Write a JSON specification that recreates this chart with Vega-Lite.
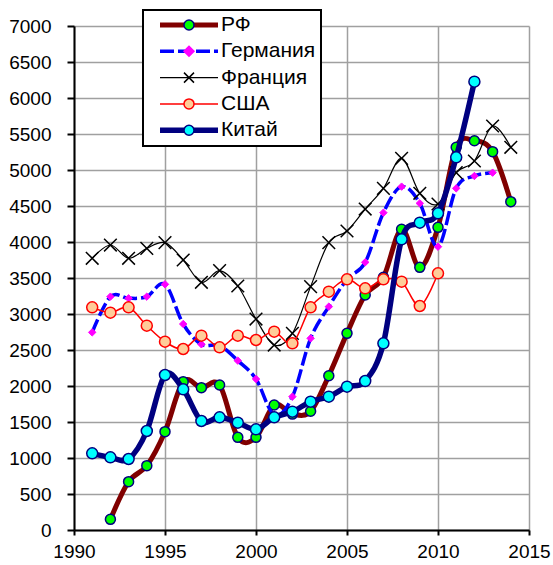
{
  "$schema": "https://vega.github.io/schema/vega-lite/v6.json",
  "width": 455,
  "height": 504,
  "autosize": {"type": "none"},
  "padding": {"left": 74, "top": 26, "right": 24, "bottom": 35},
  "background": "white",
  "config": {"view": {"stroke": null}},
  "data": {"values": [
    {"s":"РФ","year":1992,"v":148},{"s":"РФ","year":1993,"v":671},{"s":"РФ","year":1994,"v":894},{"s":"РФ","year":1995,"v":1366},{"s":"РФ","year":1996,"v":2060},{"s":"РФ","year":1997,"v":1977},{"s":"РФ","year":1998,"v":2014},{"s":"РФ","year":1999,"v":1287},{"s":"РФ","year":2000,"v":1287},{"s":"РФ","year":2001,"v":1736},{"s":"РФ","year":2002,"v":1610},{"s":"РФ","year":2003,"v":1650},{"s":"РФ","year":2004,"v":2143},{"s":"РФ","year":2005,"v":2731},{"s":"РФ","year":2006,"v":3264},{"s":"РФ","year":2007,"v":3510},{"s":"РФ","year":2008,"v":4176},{"s":"РФ","year":2009,"v":3648},{"s":"РФ","year":2010,"v":4204},{"s":"РФ","year":2011,"v":5315},{"s":"РФ","year":2012,"v":5407},{"s":"РФ","year":2013,"v":5255},{"s":"РФ","year":2014,"v":4560},
    {"s":"Германия","year":1991,"v":2745},{"s":"Германия","year":1992,"v":3241},{"s":"Германия","year":1993,"v":3218},{"s":"Германия","year":1994,"v":3241},{"s":"Германия","year":1995,"v":3412},{"s":"Германия","year":1996,"v":2861},{"s":"Германия","year":1997,"v":2579},{"s":"Германия","year":1998,"v":2560},{"s":"Германия","year":1999,"v":2352},{"s":"Германия","year":2000,"v":2097},{"s":"Германия","year":2001,"v":1600},{"s":"Германия","year":2002,"v":1852},{"s":"Германия","year":2003,"v":2662},{"s":"Германия","year":2004,"v":3102},{"s":"Германия","year":2005,"v":3480},{"s":"Германия","year":2006,"v":3718},{"s":"Германия","year":2007,"v":4407},{"s":"Германия","year":2008,"v":4769},{"s":"Германия","year":2009,"v":4537},{"s":"Германия","year":2010,"v":3935},{"s":"Германия","year":2011,"v":4745},{"s":"Германия","year":2012,"v":4917},{"s":"Германия","year":2013,"v":4963},
    {"s":"Франция","year":1991,"v":3774},{"s":"Франция","year":1992,"v":3958},{"s":"Франция","year":1993,"v":3774},{"s":"Франция","year":1994,"v":3912},{"s":"Франция","year":1995,"v":3991},{"s":"Франция","year":1996,"v":3750},{"s":"Франция","year":1997,"v":3440},{"s":"Франция","year":1998,"v":3602},{"s":"Франция","year":1999,"v":3389},{"s":"Франция","year":2000,"v":2930},{"s":"Франция","year":2001,"v":2569},{"s":"Франция","year":2002,"v":2731},{"s":"Франция","year":2003,"v":3380},{"s":"Франция","year":2004,"v":3991},{"s":"Франция","year":2005,"v":4153},{"s":"Франция","year":2006,"v":4458},{"s":"Франция","year":2007,"v":4745},{"s":"Франция","year":2008,"v":5162},{"s":"Франция","year":2009,"v":4676},{"s":"Франция","year":2010,"v":4528},{"s":"Франция","year":2011,"v":4963},{"s":"Франция","year":2012,"v":5125},{"s":"Франция","year":2013,"v":5611},{"s":"Франция","year":2014,"v":5315},
    {"s":"США","year":1991,"v":3093},{"s":"США","year":1992,"v":3019},{"s":"США","year":1993,"v":3093},{"s":"США","year":1994,"v":2838},{"s":"США","year":1995,"v":2616},{"s":"США","year":1996,"v":2514},{"s":"США","year":1997,"v":2699},{"s":"США","year":1998,"v":2537},{"s":"США","year":1999,"v":2699},{"s":"США","year":2000,"v":2639},{"s":"США","year":2001,"v":2755},{"s":"США","year":2002,"v":2593},{"s":"США","year":2003,"v":3093},{"s":"США","year":2004,"v":3310},{"s":"США","year":2005,"v":3481},{"s":"США","year":2006,"v":3356},{"s":"США","year":2007,"v":3481},{"s":"США","year":2008,"v":3449},{"s":"США","year":2009,"v":3111},{"s":"США","year":2010,"v":3565},
    {"s":"Китай","year":1991,"v":1065},{"s":"Китай","year":1992,"v":1009},{"s":"Китай","year":1993,"v":986},{"s":"Китай","year":1994,"v":1375},{"s":"Китай","year":1995,"v":2153},{"s":"Китай","year":1996,"v":1954},{"s":"Китай","year":1997,"v":1514},{"s":"Китай","year":1998,"v":1565},{"s":"Китай","year":1999,"v":1491},{"s":"Китай","year":2000,"v":1398},{"s":"Китай","year":2001,"v":1565},{"s":"Китай","year":2002,"v":1643},{"s":"Китай","year":2003,"v":1782},{"s":"Китай","year":2004,"v":1852},{"s":"Китай","year":2005,"v":1991},{"s":"Китай","year":2006,"v":2069},{"s":"Китай","year":2007,"v":2593},{"s":"Китай","year":2008,"v":4037},{"s":"Китай","year":2009,"v":4268},{"s":"Китай","year":2010,"v":4398},{"s":"Китай","year":2011,"v":5176},{"s":"Китай","year":2012,"v":6227}
  ]},
  "encoding": {
    "x": {"field": "year", "type": "quantitative",
      "scale": {"domain": [1990, 2015], "nice": false, "zero": false},
      "axis": {"title": null, "values": [1990, 1995, 2000, 2005, 2010, 2015], "format": "d", "grid": true, "gridColor": "#a0a0a0", "gridWidth": 1.5, "domainColor": "#000000", "domainWidth": 2, "tickColor": "#000000", "tickWidth": 2, "tickSize": 5, "labelFont": "Liberation Sans", "labelFontSize": 19, "labelColor": "#000000", "labelPadding": 7, "labelFlush": false, "labelOverlap": false}},
    "y": {"field": "v", "type": "quantitative",
      "scale": {"domain": [0, 7000], "nice": false},
      "axis": {"title": null, "values": [0, 500, 1000, 1500, 2000, 2500, 3000, 3500, 4000, 4500, 5000, 5500, 6000, 6500, 7000], "format": "d", "grid": true, "gridColor": "#a0a0a0", "gridWidth": 1.5, "domainColor": "#000000", "domainWidth": 2, "tickColor": "#000000", "tickWidth": 2, "tickSize": 7, "labelFont": "Liberation Sans", "labelFontSize": 19, "labelColor": "#000000", "labelPadding": 16, "labelOverlap": false}}
  },
  "layer": [
    {"transform": [{"filter": {"field": "s", "equal": "РФ"}}],
     "mark": {"type": "line", "interpolate": "cardinal", "strokeWidth": 5},
     "encoding": {"color": {"field": "s", "type": "nominal",
       "scale": {"domain": ["РФ", "Германия", "Франция", "США", "Китай"], "range": ["#800000", "#0000ff", "#000000", "#ff0000", "#000080"]},
       "legend": {"orient": "none", "legendX": 69, "legendY": -16, "title": null, "symbolType": "M-1,0L1,0M4.79,0", "symbolSize": 3364, "clipHeight": 20, "rowPadding": 5.3, "padding": 5, "labelFont": "Liberation Sans", "labelFontSize": 21, "labelColor": "#000000", "labelOffset": 21.5, "symbolOffset": 30.5, "fillColor": "white", "strokeColor": "black", "zindex": 1,
         "encode": {"legend": {"update": {"strokeWidth": {"value": 2}}},
           "symbols": {"update": {"fill": {"value": "transparent"}, "strokeWidth": {"signal": "datum.value === 'РФ' ? 5 : datum.value === 'Германия' ? 3.5 : datum.value === 'Франция' ? 1.2 : datum.value === 'США' ? 1.5 : 5.5"}, "strokeDash": {"signal": "datum.value === 'Германия' ? [14, 4] : [1, 0]"}}}}}}}},
    {"transform": [{"filter": {"field": "s", "equal": "РФ"}}],
     "mark": {"type": "point", "filled": true, "opacity": 1, "size": 100, "strokeWidth": 1.5},
     "encoding": {
       "fill": {"field": "s", "type": "nominal", "scale": {"domain": ["РФ", "Германия", "Франция", "США", "Китай", "_"], "range": ["#00ff00", "#ff00ff", "transparent", "#ffcc99", "#00ffff", "white"]},
         "legend": {"orient": "none", "legendX": 99.5, "legendY": -16, "title": null, "values": ["РФ", "Германия", "Франция", "США", "Китай"], "labelExpr": "''", "symbolSize": 100, "symbolStrokeWidth": 1.5, "clipHeight": 20, "rowPadding": 5.3, "padding": 5, "labelFont": "Liberation Sans", "labelFontSize": 21, "zindex": 2}},
       "stroke": {"field": "s", "type": "nominal", "scale": {"domain": ["РФ", "Германия", "Франция", "США", "Китай", "_"], "range": ["#000080", "#ff00ff", "#000000", "#ff0000", "#000080", "white"]}},
       "shape": {"field": "s", "type": "nominal", "scale": {"domain": ["РФ", "Германия", "Франция", "США", "Китай", "_"], "range": ["circle", "diamond", "M-1,-1L1,1M-1,1L1,-1", "circle", "circle", "circle"]}}
     }},
    {"transform": [{"filter": {"field": "s", "equal": "Германия"}}],
     "mark": {"type": "line", "interpolate": "cardinal", "strokeWidth": 3.5, "strokeDash": [14, 4]},
     "encoding": {"color": {"field": "s", "type": "nominal"}}},
    {"transform": [{"filter": {"field": "s", "equal": "Германия"}}],
     "mark": {"type": "point", "filled": true, "opacity": 1, "size": 55, "strokeWidth": 1},
     "encoding": {"fill": {"field": "s", "type": "nominal"}, "stroke": {"field": "s", "type": "nominal"}, "shape": {"field": "s", "type": "nominal"}}},
    {"transform": [{"filter": {"field": "s", "equal": "Франция"}}],
     "mark": {"type": "line", "interpolate": "cardinal", "strokeWidth": 1.2},
     "encoding": {"color": {"field": "s", "type": "nominal"}}},
    {"transform": [{"filter": {"field": "s", "equal": "Франция"}}],
     "mark": {"type": "point", "filled": true, "opacity": 1, "size": 160, "strokeWidth": 1.5},
     "encoding": {"fill": {"field": "s", "type": "nominal"}, "stroke": {"field": "s", "type": "nominal"}, "shape": {"field": "s", "type": "nominal"}}},
    {"transform": [{"filter": {"field": "s", "equal": "США"}}],
     "mark": {"type": "line", "interpolate": "cardinal", "strokeWidth": 1.5},
     "encoding": {"color": {"field": "s", "type": "nominal"}}},
    {"transform": [{"filter": {"field": "s", "equal": "США"}}],
     "mark": {"type": "point", "filled": true, "opacity": 1, "size": 121, "strokeWidth": 1.5},
     "encoding": {"fill": {"field": "s", "type": "nominal"}, "stroke": {"field": "s", "type": "nominal"}, "shape": {"field": "s", "type": "nominal"}}},
    {"transform": [{"filter": {"field": "s", "equal": "Китай"}}],
     "mark": {"type": "line", "interpolate": "cardinal", "strokeWidth": 5.5},
     "encoding": {"color": {"field": "s", "type": "nominal"}}},
    {"transform": [{"filter": {"field": "s", "equal": "Китай"}}],
     "mark": {"type": "point", "filled": true, "opacity": 1, "size": 121, "strokeWidth": 1.5},
     "encoding": {"fill": {"field": "s", "type": "nominal"}, "stroke": {"field": "s", "type": "nominal"}, "shape": {"field": "s", "type": "nominal"}}}
  ]
}
